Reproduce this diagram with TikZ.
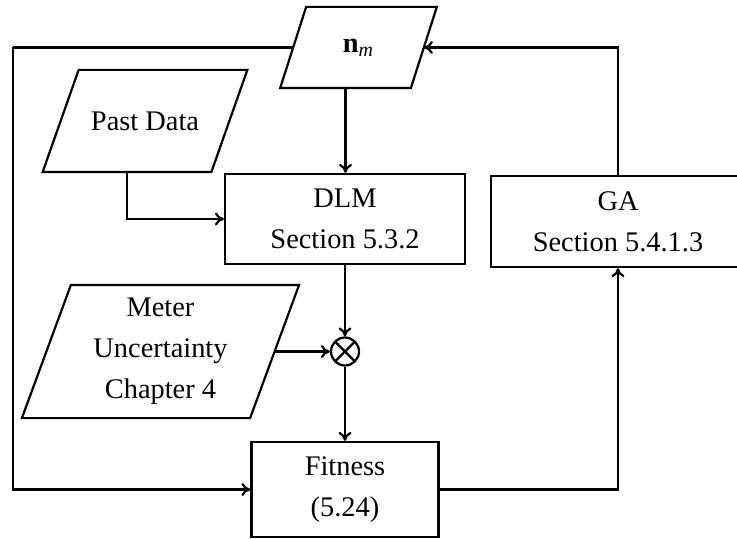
\documentclass[tikz,border=0pt]{standalone}
\usepackage{fontspec}
\setmainfont{Liberation Serif}
\usetikzlibrary{arrows.meta}
\tikzset{
  base/.style={line width=1.1pt, inner sep=0pt, align=center,
    font=\fontsize{14.2}{20.5}\selectfont},
  iobox/.style={base, rectangle},
  procbox/.style={base, draw, rectangle},
  mulnode/.style={draw, line width=1.1pt, circle, minimum size=14pt, inner sep=0pt,
    path picture={\draw[line width=1.1pt] (path picture bounding box.north west) -- (path picture bounding box.south east)
      (path picture bounding box.north east) -- (path picture bounding box.south west);}},
  conn/.style={line width=1.1pt, -{To[length=4.5pt,width=6.5pt]}},
  outline/.style={line width=1.1pt, line join=miter}
}
\newcommand\drawpara[2]{\draw[outline] ([xshift=-#2]#1.south west) -- ([xshift=-#2]#1.south east) -- ([xshift=#2]#1.north east) -- ([xshift=#2]#1.north west) -- cycle;}
\begin{document}
\begin{tikzpicture}[x=0.5pt, y=-0.5pt]
\useasboundingbox (0,0) rectangle (737,539);
\node[iobox, minimum width=64.25pt, minimum height=39.5pt] (nm) at (358.5,47.5) {\textbf{n}\textsubscript{\textit{m}}};
\drawpara{nm}{6.5pt}
\node[iobox, minimum width=83.25pt, minimum height=50pt] (past) at (145,121) {Past Data};
\drawpara{past}{9pt}
\node[iobox, minimum width=113pt, minimum height=65.5pt] (meter) at (160.5,351.5) {Meter\\Uncertainty\\Chapter 4};
\drawpara{meter}{12.25pt}
\node[procbox, minimum width=120pt, minimum height=45pt] (dlm) at (345,219) {DLM\\Section 5.3.2};
\node[procbox, minimum width=127pt, minimum height=45.5pt] (ga) at (618,221.5) {GA\\Section 5.4.1.3};
\node[procbox, minimum width=93.5pt, minimum height=47.5pt] (fit) at (345,489.5) {Fitness\\(5.24)};
\node[mulnode] (mul) at (345,351.5) {};
\coordinate (lft) at (13,0);
\coordinate (nmbot) at ([xshift=-6.5pt]nm.south);
\coordinate (pastbot) at ([xshift=-9pt]past.south);
\draw[conn] (nmbot) -- (nmbot |- dlm.north);
\draw[conn] (pastbot) |- (dlm.west);
\draw[conn] (dlm.south) -- (mul.north);
\draw[conn] (meter.east) -- (mul.west);
\draw[conn] (mul.south) -- (fit.north);
\draw[line width=1.1pt] (nm.west) -- (nm.west -| lft);
\draw[conn] (nm.west -| lft) |- (fit.west);
\draw[conn] (fit.east) -| (ga.south);
\draw[conn] (ga.north) |- (nm.east);
\end{tikzpicture}
\end{document}
